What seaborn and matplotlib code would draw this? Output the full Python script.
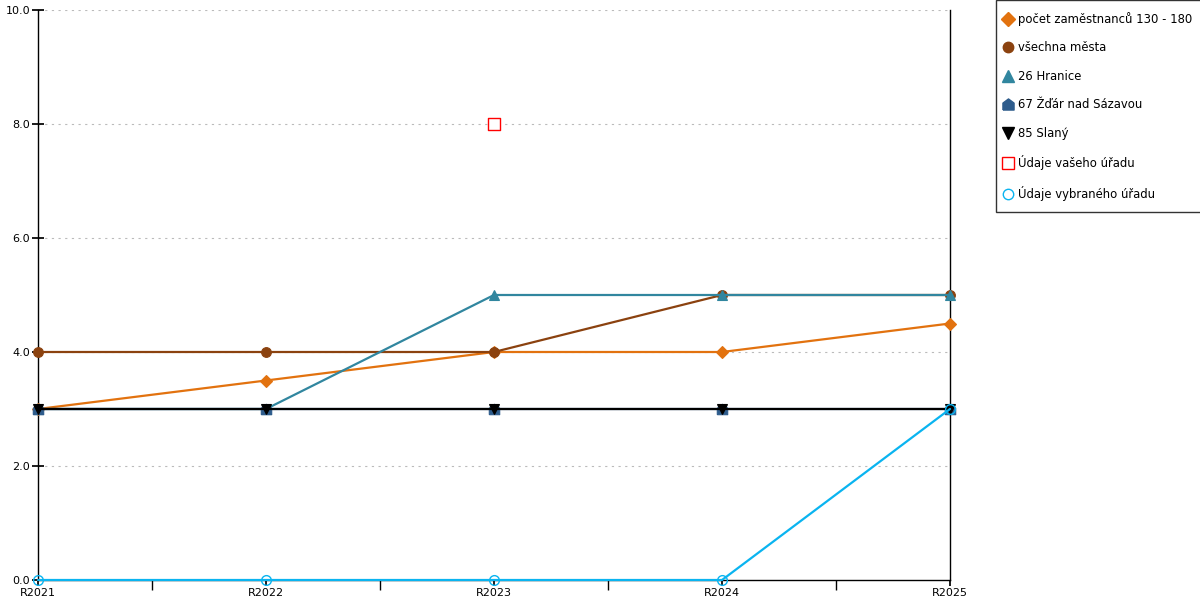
import matplotlib
matplotlib.use("Agg")
import matplotlib.pyplot as plt
import seaborn as sns
import numpy as np
import pandas as pd
from matplotlib.ticker import FixedLocator
from matplotlib.lines import Line2D

categories = ["R2021", "R2022", "R2023", "R2024", "R2025"]
pocet = [3.0, 3.5, 4.0, 4.0, 4.5]
vsechna = [4.0, 4.0, 4.0, 5.0, 5.0]
hranice = [3.0, 3.0, 5.0, 5.0, 5.0]
zdar = [3.0, 3.0, 3.0, 3.0, 3.0]
slany = [3.0, 3.0, 3.0, 3.0, 3.0]
vaseho = [np.nan, np.nan, 8.0, np.nan, np.nan]
vybraneho = [0.0, 0.0, 0.0, 0.0, 3.0]
yticks = [0.0, 2.0, 4.0, 6.0, 8.0, 10.0]

sns.set_theme(style="white")
plt.rcParams['font.family'] = ['DejaVu Sans']
plt.rcParams['text.color'] = 'black'
plt.rcParams['xtick.color'] = 'black'
plt.rcParams['ytick.color'] = 'black'
plt.rcParams['xtick.labelcolor'] = 'black'
plt.rcParams['ytick.labelcolor'] = 'black'

fig = plt.figure(figsize=(12, 6), dpi=100)
ax = fig.add_axes([38/1200, 1-580/600, (950-38)/1200, 570/600])

x = np.arange(len(categories))
house = [(-1, -1), (1, -1), (1, 0.25), (0, 1), (-1, 0.25), (-1, -1)]

series = [
    ("počet zaměstnanců 130 - 180", pocet, "#E2720F", "D", 6.5),
    ("všechna města", vsechna, "#8B420F", "o", 7),
    ("26 Hranice", hranice, "#31869F", "^", 7.5),
    ("67 Žďár nad Sázavou", zdar, "#2E5C8C", house, 7.5),
    ("85 Slaný", slany, "#000000", "v", 7.5),
]

for label, vals, color, marker, ms in series:
    df = pd.DataFrame({"x": x, "y": vals})
    sns.lineplot(data=df, x="x", y="y", ax=ax, color=color, linewidth=1.6,
                 marker=marker, markersize=ms, markeredgecolor=color,
                 markerfacecolor=color, markeredgewidth=0.8, legend=False,
                 clip_on=False, zorder=3)

df = pd.DataFrame({"x": x, "y": vaseho})
sns.scatterplot(data=df, x="x", y="y", ax=ax, marker="s", s=70,
                facecolor="white", edgecolor="#FF0000", linewidth=1.0, zorder=5, legend=False)

df = pd.DataFrame({"x": x, "y": vybraneho})
sns.lineplot(data=df, x="x", y="y", ax=ax, color="#0AB4F0", linewidth=1.6,
             marker="o", markersize=7, markerfacecolor="none",
             markeredgecolor="#0AB4F0", markeredgewidth=1.0, legend=False,
             clip_on=False, zorder=6)

leg_handles = []
for label, vals, color, marker, ms in series:
    leg_handles.append(Line2D([], [], linestyle="none", marker=marker, markersize=ms + 0.5,
                              color=color, markerfacecolor=color, markeredgecolor=color, label=label))
leg_handles.append(Line2D([], [], linestyle="none", marker="s", markersize=8,
                          markerfacecolor="white", markeredgecolor="#FF0000", label="Údaje vašeho úřadu"))
leg_handles.append(Line2D([], [], linestyle="none", marker="o", markersize=7.5,
                          markerfacecolor="none", markeredgecolor="#0AB4F0", label="Údaje vybraného úřadu"))

leg = fig.legend(handles=leg_handles, loc="upper left", bbox_to_anchor=(996/1200, 1.0),
                 frameon=True, fancybox=False, edgecolor="black", fontsize=8.4,
                 labelspacing=1.33, handlelength=0.1, handletextpad=0.75,
                 borderpad=1.0, borderaxespad=0)
leg.get_frame().set_linewidth(1.0)
for t in leg.get_texts():
    t.set_color("black")

ax.set_xlim(0, 4)
ax.set_ylim(0, 10)
ax.set_xticks(x)
ax.set_xticklabels(categories)
ax.xaxis.set_minor_locator(FixedLocator([0.5, 1.5, 2.5, 3.5]))
ax.tick_params(axis="x", which="major", length=4, direction="out",
               labelsize=8, pad=2, bottom=True)
ax.tick_params(axis="x", which="minor", length=7, direction="out", bottom=True)
ax.set_yticks(yticks)
ax.set_yticklabels([f"{v:.1f}" for v in yticks])
ax.tick_params(axis="y", which="major", length=9, direction="inout",
               labelsize=8, pad=1, left=True)
ax.set_xlabel("")
ax.set_ylabel("")

ax.grid(False)
for yv in yticks[1:]:
    ax.axhline(yv, color="#BBBBBB", linestyle=(0, (2, 4)), linewidth=0.8, zorder=0)

for side in ["left", "bottom", "right"]:
    ax.spines[side].set_visible(True)
    ax.spines[side].set_color("black")
    ax.spines[side].set_linewidth(1.0)
ax.spines["top"].set_visible(False)

fig.savefig("out.png", dpi=100)
